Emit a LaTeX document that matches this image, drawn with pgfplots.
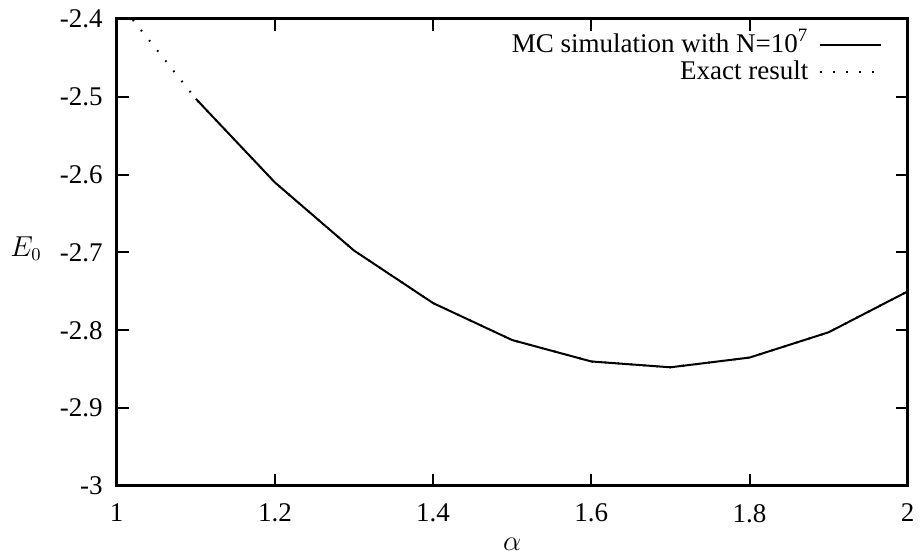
\documentclass[border=0pt]{standalone}
\usepackage{fontspec}
\setmainfont{Liberation Serif}
\usepackage{pgfplots}
\pgfplotsset{compat=1.18}
\newcommand{\bigf}{\fontsize{13.5}{16}\selectfont}
\pgfplotsset{longline/.style={legend image code/.code={\draw[##1] (0pt,0pt) -- (30.5pt,0pt);}}}
\begin{document}
\begin{tikzpicture}
\begin{axis}[
  scale only axis, width=395.5pt, height=233.5pt,
  xmin=1, xmax=2, ymin=-3, ymax=-2.4,
  xtick={1,1.2,1.4,1.6,1.8,2}, xticklabels={1,1.2,1.4,1.6,1.8,2},
  ytick={-3,-2.9,-2.8,-2.7,-2.6,-2.5,-2.4},
  yticklabels={-3,-2.9,-2.8,-2.7,-2.6,-2.5,-2.4},
  tick label style={font=\bigf},
  xticklabel style={yshift=-5.5pt},
  yticklabel style={xshift=-3.5pt},
  tick align=inside, major tick length=6pt,
  axis line style={line width=1.5pt},
  tick style={line width=1pt, black},
  xlabel={$\alpha$}, ylabel={$E_0$},
  every axis x label/.style={at={(axis description cs:0.5,0)}, anchor=north, inner sep=0pt, yshift=-26pt, font=\bigf},
  every axis y label/.style={at={(axis description cs:-0.1147,0.5)}, anchor=center, yshift=2pt, font=\bigf},
  legend plot pos=right,
  legend cell align=right,
  legend style={draw=none, fill=none, at={(axis description cs:0.9684,0.973)}, anchor=north east,
    inner sep=0pt, row sep=0.5pt, column sep=5pt, font=\bigf,
    nodes={inner sep=0.5pt, text height=9.5pt, text depth=2.5pt}},
]
\addplot[black, line width=1pt, longline] coordinates {
  (1.1,-2.5025) (1.2,-2.6100) (1.3,-2.6975) (1.4,-2.7650) (1.5,-2.8125)
  (1.6,-2.8400) (1.7,-2.8475) (1.8,-2.8350) (1.9,-2.8025) (2.0,-2.7500)
};
\addlegendentry{MC simulation with N=10\textsuperscript{7}}
\addplot[black, line width=1pt, dash pattern=on 0.8pt off 5.7pt, longline] coordinates {
  (1.0,-2.3750) (1.1,-2.5025) (1.2,-2.6100) (1.3,-2.6975) (1.4,-2.7650) (1.5,-2.8125)
  (1.6,-2.8400) (1.7,-2.8475) (1.8,-2.8350) (1.9,-2.8025) (2.0,-2.7500)
};
\addlegendentry{Exact result}
\end{axis}
\pgfresetboundingbox
\path[use as bounding box] (-58.35pt,-35pt) rectangle (401.65pt,243pt);
\end{tikzpicture}
\end{document}
